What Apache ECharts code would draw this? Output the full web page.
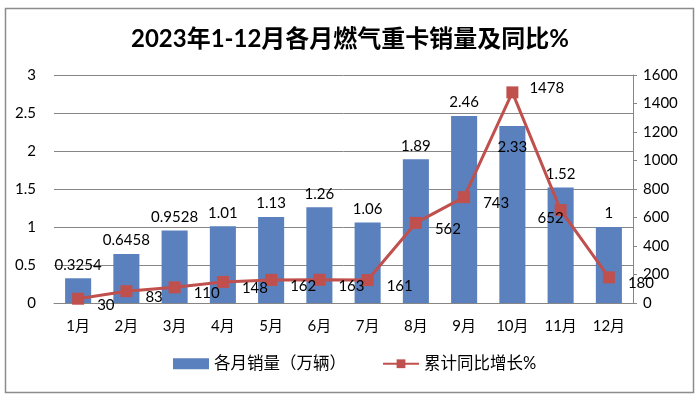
<!DOCTYPE html>
<html lang="zh">
<head>
    <meta charset="UTF-8">
    <title>2023年1-12月各月燃气重卡销量及同比%</title>
    <script type="text/javascript" src="https://cdn.jsdelivr.net/npm/echarts@6/dist/echarts.min.js"></script>
    <style>
        html, body {margin: 0; padding: 0; background: #fff;}
    </style>
</head>
<body>
<div id="main" style="width: 700px;height:399px;"></div>
<script type="text/javascript">
    // 月份
    var months = ['1月', '2月', '3月', '4月', '5月', '6月', '7月', '8月', '9月', '10月', '11月', '12月'];
    // 各月销量（万辆）
    var sales = [0.3254, 0.6458, 0.9528, 1.01, 1.13, 1.26, 1.06, 1.89, 2.46, 2.33, 1.52, 1];
    // 累计同比增长%
    var growth = [30, 83, 110, 148, 162, 163, 161, 562, 743, 1478, 652, 180];
    // 坐标轴刻度
    var leftTicks = [0, 0.5, 1, 1.5, 2, 2.5, 3];
    var rightTicks = [0, 200, 400, 600, 800, 1000, 1200, 1400, 1600];

    var font = 'Lato, "Noto Sans CJK SC", sans-serif';

    var barData = sales.map(function (v, i) {
        var item = {value: v};
        if (i === 9) {
            // 10月的标签被压在柱子里
            item.label = {position: 'insideTop', distance: 14};
        }
        return item;
    });

    var lineData = growth.map(function (v, i) {
        var item = {value: v};
        if (i === 10) {
            item.label = {position: 'left', offset: [14, 8]};
        }
        if (i === 9) {
            item.label = {position: 'right', offset: [6, -4]};
        }
        return item;
    });

    var myChart = echarts.init(document.getElementById('main'));
    var option = {
        animation: false,
        textStyle: {fontFamily: font},
        title: {
            text: '2023年1-12月各月燃气重卡销量及同比%',
            left: 'center',
            top: 22,
            textStyle: {fontSize: 24, fontWeight: 'bold', color: '#000', fontFamily: font}
        },
        graphic: [{
            type: 'rect',
            shape: {x: 5.5, y: 8.5, width: 688, height: 384},
            style: {fill: 'none', stroke: '#8c8c8c', lineWidth: 1.5},
            silent: true
        }],
        legend: {
            bottom: 22,
            left: 168,
            itemGap: 36,
            itemWidth: 36,
            itemHeight: 11,
            textStyle: {fontSize: 16.5, color: '#000', fontFamily: font},
            data: [
                {name: '各月销量（万辆）', icon: 'rect'},
                {name: '累计同比增长%'}
            ]
        },
        grid: {left: 54, right: 67, top: 75, bottom: 96},
        xAxis: {
            type: 'category',
            data: months,
            axisTick: {show: false},
            axisLine: {lineStyle: {color: '#868686'}},
            axisLabel: {fontSize: 15, color: '#000', margin: 16}
        },
        yAxis: [{
            type: 'value',
            min: leftTicks[0],
            max: leftTicks[leftTicks.length - 1],
            interval: 0.5,
            axisLabel: {fontSize: 15, color: '#000', margin: 18},
            splitLine: {lineStyle: {color: '#868686', width: 1}},
            axisLine: {show: false},
            axisTick: {show: false}
        }, {
            type: 'value',
            min: rightTicks[0],
            max: rightTicks[rightTicks.length - 1],
            interval: 200,
            position: 'right',
            axisLabel: {
                fontSize: 15, color: '#000', margin: 10,
                formatter: function (v) { return String(v); }
            },
            splitLine: {show: false},
            axisLine: {show: true, lineStyle: {color: '#868686'}},
            axisTick: {show: true, length: 4, inside: false, lineStyle: {color: '#868686'}}
        }],
        series: [{
            name: '各月销量（万辆）',
            type: 'bar',
            barWidth: '54%',
            data: barData,
            itemStyle: {color: '#5a80bd'},
            label: {
                show: true,
                position: 'top',
                distance: 6,
                fontSize: 15,
                color: '#000',
                fontFamily: font
            }
        }, {
            name: '累计同比增长%',
            type: 'line',
            yAxisIndex: 1,
            data: lineData,
            symbol: 'rect',
            symbolSize: 12,
            lineStyle: {color: '#c0504d', width: 3},
            itemStyle: {color: '#c0504d'},
            label: {
                show: true,
                position: 'right',
                offset: [8, 6],
                fontSize: 15,
                color: '#000',
                fontFamily: font
            },
            z: 3
        }]
    };
    myChart.setOption(option);
</script>
</body>
</html>
